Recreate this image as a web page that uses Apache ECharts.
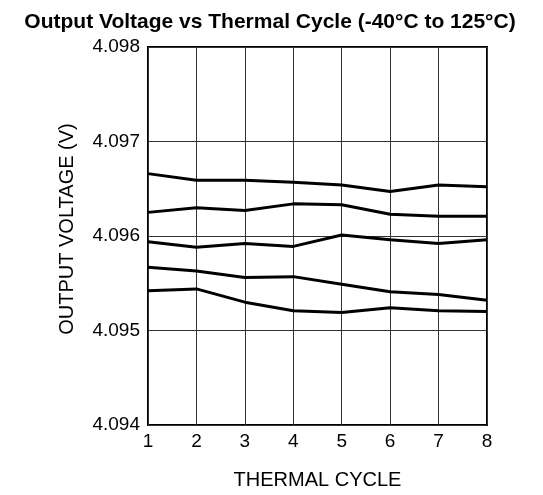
<!DOCTYPE html>
<html>
<head>
<meta charset="utf-8">
<script src="https://cdn.jsdelivr.net/npm/echarts@6/dist/echarts.min.js"></script>
<style>
  html, body { margin: 0; padding: 0; background: #fff; }
  #chart { width: 543px; height: 495px; }
</style>
</head>
<body>
<div id="chart"></div>
<script>
// thermal cycles 1..8
const cycles = [1, 2, 3, 4, 5, 6, 7, 8];

// five units, output voltage (V) after each cycle
const unitA = [4.09666, 4.09659, 4.09659, 4.09657, 4.09654, 4.09647, 4.09654, 4.09652];
const unitB = [4.09625, 4.09630, 4.09627, 4.09634, 4.09633, 4.09623, 4.09621, 4.09621];
const unitC = [4.09594, 4.09588, 4.09592, 4.09589, 4.09601, 4.09596, 4.09592, 4.09596];
const unitD = [4.09567, 4.09563, 4.09556, 4.09557, 4.09549, 4.09541, 4.09538, 4.09532];
const unitE = [4.09542, 4.09544, 4.09530, 4.09521, 4.09519, 4.09524, 4.09521, 4.09520];

const units = [unitA, unitB, unitC, unitD, unitE];

const chart = echarts.init(document.getElementById("chart"));
const font = "'Liberation Sans', Arial, sans-serif";

const option = {
  animation: false,
  title: {
    text: "Output Voltage vs Thermal Cycle (-40°C to 125°C)",
    left: 265,
    textAlign: "center",
    top: 7,
    textStyle: { fontFamily: font, fontSize: 21, fontWeight: "bold", color: "#000" },
  },
  grid: { left: 148, right: 56, top: 47, bottom: 69, show: true, borderColor: "#000", borderWidth: 2 },
  xAxis: {
    type: "value",
    min: 1,
    max: 8,
    interval: 1,
    name: "THERMAL CYCLE",
    nameLocation: "middle",
    nameGap: 45,
    nameTextStyle: { fontFamily: font, fontSize: 20, color: "#000" },
    axisLine: { show: false },
    axisTick: { show: false },
    axisLabel: { fontFamily: font, fontSize: 19, color: "#000", margin: 7 },
    splitLine: { show: true, lineStyle: { color: "#333", width: 1 } },
  },
  yAxis: {
    type: "value",
    min: 4.094,
    max: 4.098,
    interval: 0.001,
    name: "OUTPUT VOLTAGE (V)",
    nameLocation: "middle",
    nameGap: 71,
    nameTextStyle: { fontFamily: font, fontSize: 20, color: "#000", padding: [0, 0, 0, 14] },
    axisLine: { show: false },
    axisTick: { show: false },
    axisLabel: { fontFamily: font, fontSize: 19, color: "#000", margin: 8, formatter: (v) => v.toFixed(3) },
    splitLine: { show: true, lineStyle: { color: "#333", width: 1 } },
  },
  series: units.map((u) => ({
    type: "line",
    data: cycles.map((c, i) => [c, u[i]]),
    symbol: "none",
    lineStyle: { color: "#000", width: 3 },
  })),
};

chart.setOption(option);
</script>
</body>
</html>
